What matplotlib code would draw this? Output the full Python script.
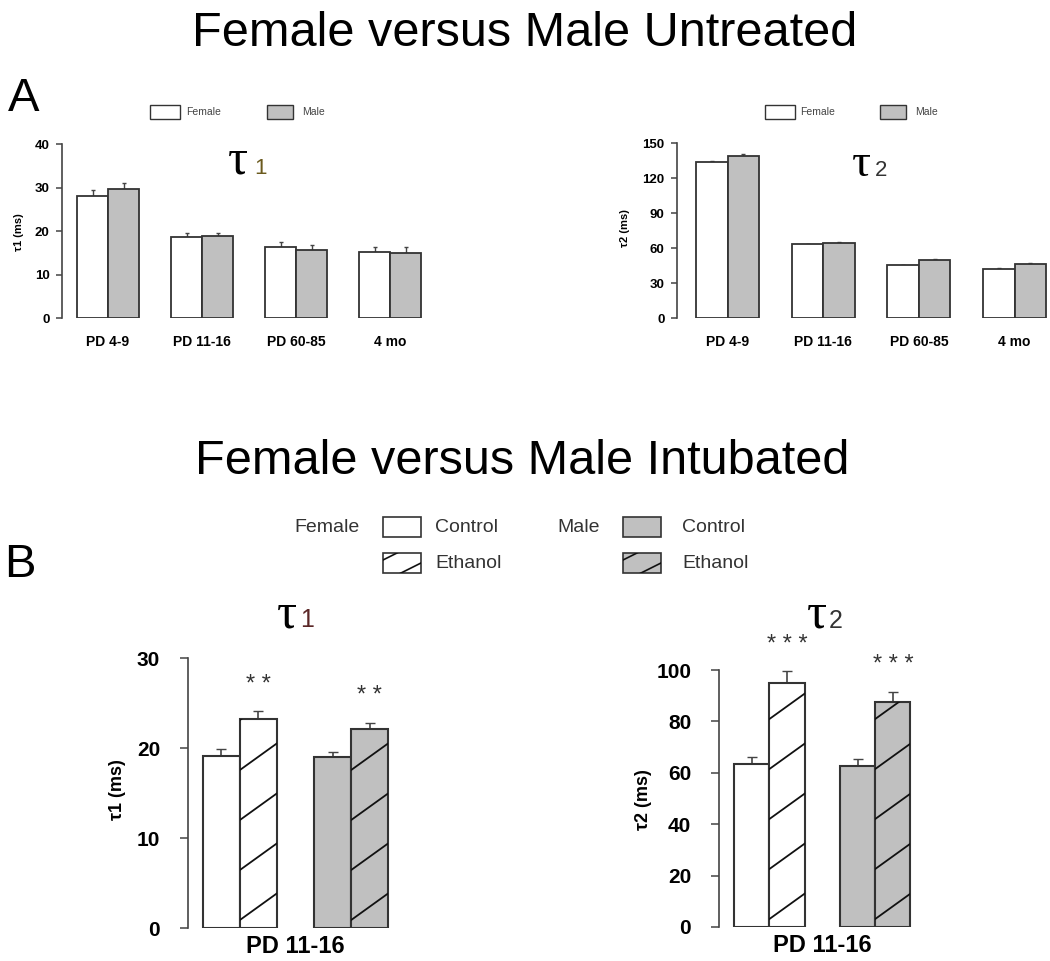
import numpy as np
import matplotlib
matplotlib.use("Agg")
from matplotlib import pyplot as plt
from matplotlib.patches import Rectangle
from matplotlib.lines import Line2D
from matplotlib.transforms import IdentityTransform

plt.rcParams['font.family'] = ['Liberation Sans', 'DejaVu Sans']

# ---- data ----
ages = ['PD 4-9', 'PD 11-16', 'PD 60-85', '4 mo']
tau1_female = [28.0, 18.7, 16.4, 15.2]
tau1_female_err = [1.4, 0.8, 1.1, 1.2]
tau1_male = [29.7, 18.9, 15.6, 14.9]
tau1_male_err = [1.4, 0.7, 1.1, 1.5]
tau2_female = [133.7, 63.1, 45.1, 42.3]
tau2_female_err = [0.9, 0.5, 0.7, 0.8]
tau2_male = [138.9, 64.3, 49.4, 46.6]
tau2_male_err = [1.4, 0.5, 0.9, 0.9]

# intubated, PD 11-16: female control, female ethanol, male control, male ethanol
intub_groups = ['Female Control', 'Female Ethanol', 'Male Control', 'Male Ethanol']
intub_tau1 = [19.1, 23.2, 19.0, 22.1]
intub_tau1_err = [0.8, 0.9, 0.6, 0.7]
intub_tau2 = [63.5, 95.0, 62.5, 87.5]
intub_tau2_err = [2.5, 4.5, 3.0, 4.0]
intub_stars = ['', '* *', '', '* *']
intub_stars2 = ['', '* * *', '', '* * *']

W, H = 1050, 961
fig = plt.figure(figsize=(W / 100, H / 100), dpi=100)
GRAY = '#c0c0c0'
EDGE = '#333333'


def px(x, y):
    # pixel (from top-left) -> figure fraction
    return x / W, 1 - y / H


def hatch_lines(patch, trans, slope, spacing, phase, lw=1.3):
    # sparse diagonal hatch, drawn in pixels and clipped to the patch
    x0, y0 = trans.transform((patch.get_x(), patch.get_y()))
    x1, y1 = trans.transform((patch.get_x() + patch.get_width(),
                              patch.get_y() + patch.get_height()))
    rise = slope * (x1 - x0)
    k = -int(rise / spacing) - 2
    while True:
        yl = y0 + phase + k * spacing
        if yl > y1:
            break
        ln = Line2D([x0, x1], [yl, yl + rise], transform=IdentityTransform(),
                    color='#111111', lw=lw, zorder=5)
        ln.set_clip_path(patch)
        fig.add_artist(ln)
        k += 1


def style_axis(ax, ymax, step, fs, pad, tlen):
    ax.set_ylim(0, ymax)
    ax.set_yticks(np.arange(0, ymax + 0.1, step))
    for s in ['top', 'right', 'bottom']:
        ax.spines[s].set_visible(False)
    ax.spines['left'].set_color('#444444')
    ax.spines['left'].set_linewidth(1.2)
    ax.tick_params(axis='y', direction='out', length=tlen, width=1.1,
                   color='#444444', pad=pad, labelsize=fs)
    ax.tick_params(axis='x', length=0)
    for lb in ax.get_yticklabels():
        lb.set_fontweight('bold')


# ---------- panel A ----------
def panel_a(rect, xlim, fvals, ferr, mvals, merr, ymax, step):
    ax = fig.add_axes(rect)
    x = np.arange(len(ages))
    w = 0.33
    ax.bar(x - w / 2, fvals, w, color='white', edgecolor=EDGE, lw=1.3, zorder=3)
    ax.bar(x + w / 2, mvals, w, color=GRAY, edgecolor=EDGE, lw=1.3, zorder=3)
    ax.errorbar(x - w / 2, fvals, yerr=[np.zeros(4), ferr], fmt='none',
                ecolor='#444444', elinewidth=1, capsize=1.5, zorder=2)
    ax.errorbar(x + w / 2, mvals, yerr=[np.zeros(4), merr], fmt='none',
                ecolor='#444444', elinewidth=1, capsize=1.5, zorder=2)
    ax.set_xlim(*xlim)
    style_axis(ax, ymax, step, 9.5, 5, 4)
    ax.set_xticks(x, ages, fontsize=10, fontweight='bold')
    ax.tick_params(axis='x', pad=12)
    return ax


panel_a([62 / W, 1 - 318 / H, 375 / W, 174 / H], (-0.49, 3.5),
        tau1_female, tau1_female_err, tau1_male, tau1_male_err, 40, 10)
panel_a([677 / W, 1 - 318 / H, 371 / W, 175 / H], (-0.53, 3.35),
        tau2_female, tau2_female_err, tau2_male, tau2_male_err, 150, 30)


# ---------- panel B ----------
def panel_b(rect, xlim, vals, errs, stars, ymax, step):
    ax = fig.add_axes(rect)
    x = np.array([0, 1, 3, 4])
    colors = ['white', 'white', GRAY, GRAY]
    bars = ax.bar(x, vals, 1.0, color=colors, edgecolor=EDGE, lw=1.5, zorder=3)
    ax.errorbar(x, vals, yerr=[np.zeros(4), errs], fmt='none',
                ecolor='#444444', elinewidth=1.2, capsize=3.5, zorder=2)
    ax.set_xlim(*xlim)
    style_axis(ax, ymax, step, 15, 14, 6)
    ax.set_xticks([2], ['PD 11-16'], fontsize=17, fontweight='bold')
    ax.tick_params(axis='x', pad=5)
    for xi, v, e, s in zip(x, vals, errs, stars):
        if s:
            ax.annotate(s, (xi, v + e), xytext=(0, 19), textcoords='offset points',
                        ha='center', va='center', fontsize=17, color='#333333')
    return ax, bars


axb1, bars1 = panel_b([188 / W, 1 - 928 / H, 204 / W, 270 / H], (-0.9, 4.6),
                      intub_tau1, intub_tau1_err, intub_stars, 30, 10)
axb2, bars2 = panel_b([719 / W, 1 - 927 / H, 195 / W, 257 / H], (-0.93, 4.6),
                      intub_tau2, intub_tau2_err, intub_stars2, 100, 20)

for ax, bars in [(axb1, bars1), (axb2, bars2)]:
    for i in [1, 3]:
        hatch_lines(bars[i], ax.transData, 0.72, 50, 8)

# ---------- titles / labels ----------
fig.text(*px(525, 34), 'Female versus Male Untreated', fontsize=35,
         ha='center', va='center')
fig.text(*px(522, 461), 'Female versus Male Intubated', fontsize=35,
         ha='center', va='center')
fig.text(*px(24, 99), 'A', fontsize=34, ha='center', va='center')
fig.text(*px(20, 565), 'B', fontsize=34, ha='center', va='center')

# tau headings
for (tx, ty, dx, digit, c, fs1, fs2) in [
        (228, 174, 254, '1', '#6b5a1e', 36, 16),
        (852, 176, 875, '2', '#333333', 34, 16),
        (277, 627, 300, '1', '#5a2626', 36, 18),
        (807, 628, 829, '2', '#333333', 36, 18)]:
    fig.text(*px(tx, ty), 'τ', fontsize=fs1, family=['Liberation Serif', 'DejaVu Serif'],
             ha='left', va='baseline')
    fig.text(*px(dx, ty), digit, fontsize=fs2, color=c, ha='left', va='baseline')

# y labels
fig.text(*px(19, 232), 'τ1 (ms)', rotation=90, fontsize=8, fontweight='bold',
         ha='center', va='center')
fig.text(*px(625, 228), 'τ2 (ms)', rotation=90, fontsize=8, fontweight='bold',
         ha='center', va='center')
fig.text(*px(117, 790), 'τ1 (ms)', rotation=90, fontsize=13, fontweight='bold',
         ha='center', va='center')
fig.text(*px(643, 800), 'τ2 (ms)', rotation=90, fontsize=13, fontweight='bold',
         ha='center', va='center')


# ---------- legends ----------
def legend_box(x0, y0, x1, y1, color, hatched=False, lw=1.2):
    fx0, fy1 = px(x0, y1)
    fx1, fy0 = px(x1, y0)
    r = Rectangle((fx0, fy1), fx1 - fx0, fy0 - fy1, transform=fig.transFigure,
                  facecolor=color, edgecolor=EDGE, lw=lw)
    fig.add_artist(r)
    if hatched:
        hatch_lines(r, fig.transFigure, 0.5, 22, 13, lw=1.2)


for bx, tx in [(150, 186), (765, 800)]:
    legend_box(bx, 105, bx + 30, 119, 'white', lw=1)
    fig.text(*px(tx, 112), 'Female', fontsize=7.5, color='#444444', va='center')
for bx, tx in [(267, 302), (880, 915)]:
    legend_box(bx, 105, bx + 26, 119, GRAY, lw=1)
    fig.text(*px(tx, 112), 'Male', fontsize=7.5, color='#444444', va='center')

fig.text(*px(360, 527), 'Female', fontsize=14, color='#333333', ha='right', va='center')
fig.text(*px(600, 527), 'Male', fontsize=14, color='#333333', ha='right', va='center')
for bx, col in [(383, 'white'), (623, GRAY)]:
    legend_box(bx, 517, bx + 38, 537, col)
    legend_box(bx, 553, bx + 38, 573, col, hatched=True)
for tx in [435, 682]:
    fig.text(*px(tx, 527), 'Control', fontsize=14, color='#333333', va='center')
    fig.text(*px(tx, 563), 'Ethanol', fontsize=14, color='#333333', va='center')

fig.savefig('out.png', dpi=100)
